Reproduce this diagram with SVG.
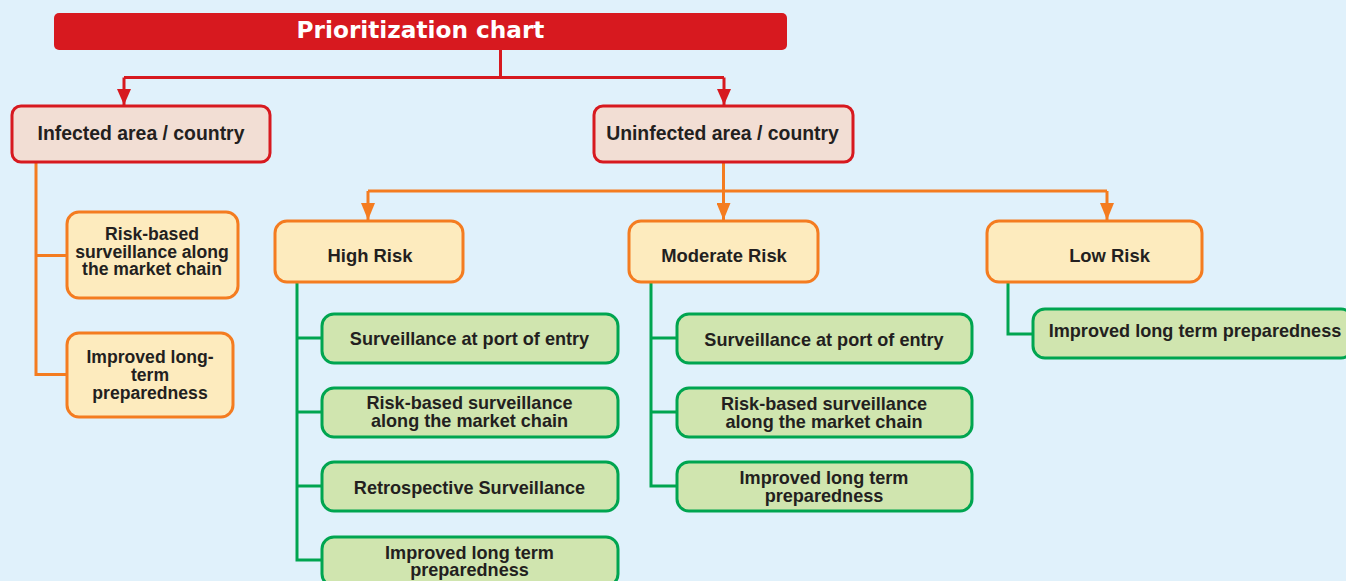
<svg xmlns="http://www.w3.org/2000/svg" width="1346" height="581" viewBox="0 0 1346 581">
<defs>
<style>
.t{font-family:"Liberation Sans",Arial,sans-serif;font-weight:bold;fill:#231F20;text-anchor:middle}
.s18{font-size:18.4px}
.s19{font-size:19.4px}
.s17{font-size:17.6px}
.sg{font-size:18.1px}
.title{font-family:"DejaVu Sans",Verdana,sans-serif;font-weight:bold;font-size:23.2px;fill:#FFFFFF;text-anchor:middle}
.red{fill:#F2DED4;stroke:#D7191F;stroke-width:3}
.org{fill:#FDEBBE;stroke:#F47C20;stroke-width:3}
.grn{fill:#D0E5AF;stroke:#00A550;stroke-width:3}
.lr{fill:none;stroke:#D7191F;stroke-width:3}
.lo{fill:none;stroke:#F47C20;stroke-width:3}
.lg{fill:none;stroke:#00A550;stroke-width:3}
</style>
<marker id="ar" viewBox="0 0 16 14" refX="16" refY="7" markerWidth="16" markerHeight="14" markerUnits="userSpaceOnUse" orient="auto"><path d="M0,0 L16,7 L0,14 z" fill="#D7191F"/></marker>
<marker id="ao" viewBox="0 0 17 14" refX="17" refY="7" markerWidth="17" markerHeight="14" markerUnits="userSpaceOnUse" orient="auto"><path d="M0,0 L17,7 L0,14 z" fill="#F47C20"/></marker>
</defs>
<rect x="0" y="0" width="1346" height="581" fill="#E0F1FB"/>
<g id="connectors">
<path class="lr" d="M500.5,50 V77.5 M124,77.5 H724"/>
<path class="lr" d="M124,77.5 V105" marker-end="url(#ar)"/>
<path class="lr" d="M724,77.5 V105" marker-end="url(#ar)"/>
<path class="lo" d="M723.5,162 V191 M368,191 H1107"/>
<path class="lo" d="M368,191 V220" marker-end="url(#ao)"/>
<path class="lo" d="M723.5,191 V220" marker-end="url(#ao)"/>
<path class="lo" d="M1107,191 V220" marker-end="url(#ao)"/>
<path class="lo" d="M36,162 V374.5 H67 M36,255.5 H67"/>
<path class="lg" d="M297,282 V560 H322 M297,338 H322 M297,412 H322 M297,486 H322"/>
<path class="lg" d="M651,282 V486 H677 M651,338 H677 M651,412 H677"/>
<path class="lg" d="M1008,282 V334 H1033"/>
</g>
<g id="title">
<rect x="54" y="13" width="733" height="37" rx="5" fill="#D7191F"/>
<text class="title" x="420.5" y="38">Prioritization chart</text>
</g>
<g id="infected">
<rect class="red" x="12" y="106" width="258" height="56" rx="9"/>
<text class="t s19" x="141" y="139.5">Infected area / country</text>
</g>
<g id="uninfected">
<rect class="red" x="594" y="106" width="259" height="56" rx="9"/>
<text class="t s19" x="722.5" y="139.5">Uninfected area / country</text>
</g>
<g id="inf-risk-based">
<rect class="org" x="67" y="212" width="171" height="86" rx="12"/>
<text class="t s17" x="152" y="240">Risk-based</text>
<text class="t s17" x="152" y="257.5">surveillance along</text>
<text class="t s17" x="152" y="275">the market chain</text>
</g>
<g id="inf-improved">
<rect class="org" x="67" y="333" width="166" height="84" rx="12"/>
<text class="t s17" x="150" y="363">Improved long-</text>
<text class="t s17" x="150" y="381">term</text>
<text class="t s17" x="150" y="399">preparedness</text>
</g>
<g id="high-risk">
<rect class="org" x="275" y="221" width="188" height="61" rx="12"/>
<text class="t s18" x="370" y="262">High Risk</text>
</g>
<g id="moderate-risk">
<rect class="org" x="629" y="221" width="189" height="61" rx="12"/>
<text class="t s18" x="724" y="262">Moderate Risk</text>
</g>
<g id="low-risk">
<rect class="org" x="987" y="221" width="215" height="61" rx="12"/>
<text class="t s18" x="1109.5" y="262">Low Risk</text>
</g>
<g id="high-port">
<rect class="grn" x="322" y="314" width="296" height="49" rx="12"/>
<text class="t sg" x="469.5" y="344.5">Surveillance at port of entry</text>
</g>
<g id="high-risk-based">
<rect class="grn" x="322" y="388" width="296" height="49" rx="12"/>
<text class="t sg" x="469.5" y="409">Risk-based surveillance</text>
<text class="t sg" x="469.5" y="427">along the market chain</text>
</g>
<g id="high-retro">
<rect class="grn" x="322" y="462" width="296" height="49" rx="12"/>
<text class="t sg" x="469.5" y="494">Retrospective Surveillance</text>
</g>
<g id="high-improved">
<rect class="grn" x="322" y="537" width="296" height="49" rx="12"/>
<text class="t sg" x="469.5" y="558.5">Improved long term</text>
<text class="t sg" x="469.5" y="576">preparedness</text>
</g>
<g id="mod-port">
<rect class="grn" x="677" y="314" width="295" height="49" rx="12"/>
<text class="t sg" x="824" y="346">Surveillance at port of entry</text>
</g>
<g id="mod-risk-based">
<rect class="grn" x="677" y="388" width="295" height="49" rx="12"/>
<text class="t sg" x="824" y="410">Risk-based surveillance</text>
<text class="t sg" x="824" y="427.5">along the market chain</text>
</g>
<g id="mod-improved">
<rect class="grn" x="677" y="462" width="295" height="49" rx="12"/>
<text class="t sg" x="824" y="484">Improved long term</text>
<text class="t sg" x="824" y="501.5">preparedness</text>
</g>
<g id="low-improved">
<rect class="grn" x="1033" y="309" width="320" height="49" rx="12"/>
<text class="t sg" x="1195" y="337">Improved long term preparedness</text>
</g>
</svg>
